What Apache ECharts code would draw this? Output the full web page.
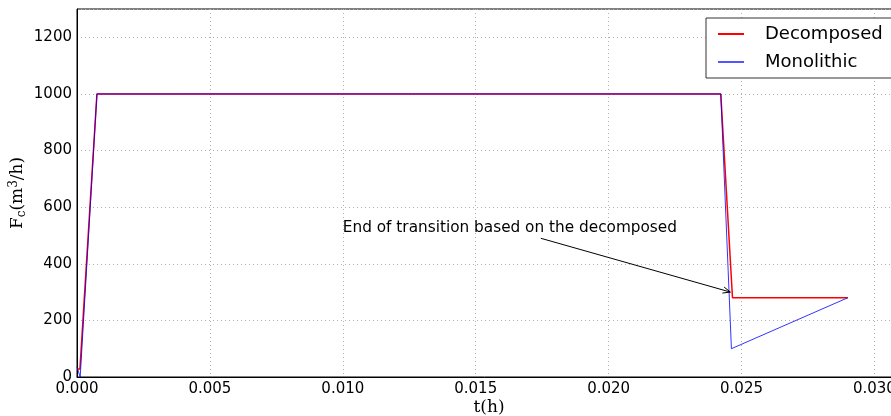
<!DOCTYPE html>
<html>
<head>
<meta charset="utf-8">
<script src="https://cdn.jsdelivr.net/npm/echarts@6/dist/echarts.min.js"></script>
<style>html,body{margin:0;padding:0;background:#fff}#c{width:891px;height:416px}</style>
</head>
<body>
<div id="c"></div>
<script>
// Data
var decT = [0, 0.00011, 0.00075, 0.02422, 0.02466, 0.0290];
var decF = [28, 28, 1000, 1000, 280, 280];
var monoT = [0, 0.00012, 0.00075, 0.02422, 0.02462, 0.0290];
var monoF = [35, 0, 1000, 1000, 100, 280];
var seriesNames = ['Decomposed', 'Monolithic'];
var annText = 'End of transition based on the decomposed';
var annTextAt = [0.0100, 500];
var annArrowFrom = [0.01745, 490];
var annArrowTo = [0.02458, 300];
var xTicks = {min: 0, max: 0.031, interval: 0.005};
var yTicks = {min: 0, max: 1300, interval: 200};

function pairs(t, f) { return t.map(function (v, i) { return [v, f[i]]; }); }

var chart = echarts.init(document.getElementById('c'), null, {renderer: 'canvas'});
var font = 'DejaVu Sans';
chart.setOption({
  animation: false,
  backgroundColor: '#fff',
  grid: {left: 77, right: -10, top: 9, bottom: 39, show: true, borderColor: '#000', borderWidth: 1,
    backgroundColor: 'transparent', containLabel: false, outerBoundsMode: 'none'},
  xAxis: {
    type: 'value', min: xTicks.min, max: xTicks.max, interval: xTicks.interval,
    name: 't(h)', nameLocation: 'middle', nameGap: 22, nameMoveOverlap: false,
    nameTextStyle: {fontFamily: 'DejaVu Serif', fontSize: 17, color: '#000'},
    axisLine: {show: true, onZero: false, lineStyle: {color: '#000', width: 1}},
    axisTick: {show: false},
    axisLabel: {showMaxLabel: false, fontFamily: font, fontSize: 15, color: '#000', margin: 5,
      formatter: function (v) { return v.toFixed(3); }},
    splitLine: {show: true, lineStyle: {color: '#b0b0b0', type: [1, 3], width: 1}}
  },
  yAxis: {
    type: 'value', min: yTicks.min, max: yTicks.max, interval: yTicks.interval,
    name: '{n|F}{sub|c}{n|(m}{sup|3}{n|/h)}', nameLocation: 'middle', nameGap: 49, nameMoveOverlap: false,
    nameTextStyle: {fontFamily: 'DejaVu Serif', fontSize: 17, color: '#000',
      rich: {
        n: {fontFamily: 'DejaVu Serif', fontSize: 17, color: '#000'},
        sub: {fontFamily: 'DejaVu Serif', fontSize: 12, color: '#000', padding: [8, 0, 0, 0]},
        sup: {fontFamily: 'DejaVu Serif', fontSize: 12, color: '#000', padding: [0, 0, 8, 0]}
      }},
    axisLine: {show: true, lineStyle: {color: '#000', width: 1}},
    axisTick: {show: false},
    axisLabel: {showMaxLabel: false, fontFamily: font, fontSize: 15, color: '#000', margin: 5,
      formatter: function (v) { return String(v); }},
    splitLine: {show: true, lineStyle: {color: '#b0b0b0', type: [1, 3], width: 1}}
  },
  legend: {
    orient: 'vertical', left: 706, top: 18,
    padding: [5, 30, 5, 12], itemGap: 6,
    itemWidth: 26, itemHeight: 2, icon: 'rect',
    backgroundColor: '#fff', borderColor: '#333', borderWidth: 1, borderRadius: 0,
    textStyle: {fontFamily: font, fontSize: 18, color: '#000', lineHeight: 22, padding: [0, 0, 0, 16]},
    data: [
      {name: seriesNames[0], itemStyle: {color: '#ff0000'}},
      {name: seriesNames[1], itemStyle: {color: '#5555ff'}}
    ]
  },
  series: [
    {
      name: seriesNames[0], type: 'line', data: pairs(decT, decF),
      showSymbol: false, symbol: 'none', z: 3,
      lineStyle: {color: '#ff0000', width: 1.5}, itemStyle: {color: '#ff0000'}
    },
    {
      name: seriesNames[1], type: 'line', data: pairs(monoT, monoF),
      showSymbol: false, symbol: 'none', z: 4,
      lineStyle: {color: '#0000ff', width: 1, opacity: 0.8}, itemStyle: {color: '#0000ff'}
    },
    {
      type: 'custom', z: 5, silent: true,
      data: [[annTextAt[0], annTextAt[1], annArrowFrom[0], annArrowFrom[1], annArrowTo[0], annArrowTo[1]]],
      renderItem: function (params, api) {
        var tp = api.coord([api.value(0), api.value(1)]);
        var a = api.coord([api.value(2), api.value(3)]);
        var b = api.coord([api.value(4), api.value(5)]);
        var ang = Math.atan2(b[1] - a[1], b[0] - a[0]);
        var hl = 8, hw = 0.4;
        var h1 = [b[0] - hl * Math.cos(ang - hw), b[1] - hl * Math.sin(ang - hw)];
        var h2 = [b[0] - hl * Math.cos(ang + hw), b[1] - hl * Math.sin(ang + hw)];
        var st = {stroke: '#000', lineWidth: 1, fill: null};
        return {
          type: 'group',
          children: [
            {type: 'text', style: {text: annText, x: tp[0], y: tp[1], fontFamily: font, fontSize: 15.3, fill: '#000', textAlign: 'left', textVerticalAlign: 'bottom'}},
            {type: 'line', shape: {x1: a[0], y1: a[1], x2: b[0], y2: b[1]}, style: st},
            {type: 'polyline', shape: {points: [h1, b, h2]}, style: st}
          ]
        };
      }
    }
  ]
});
</script>
</body>
</html>
